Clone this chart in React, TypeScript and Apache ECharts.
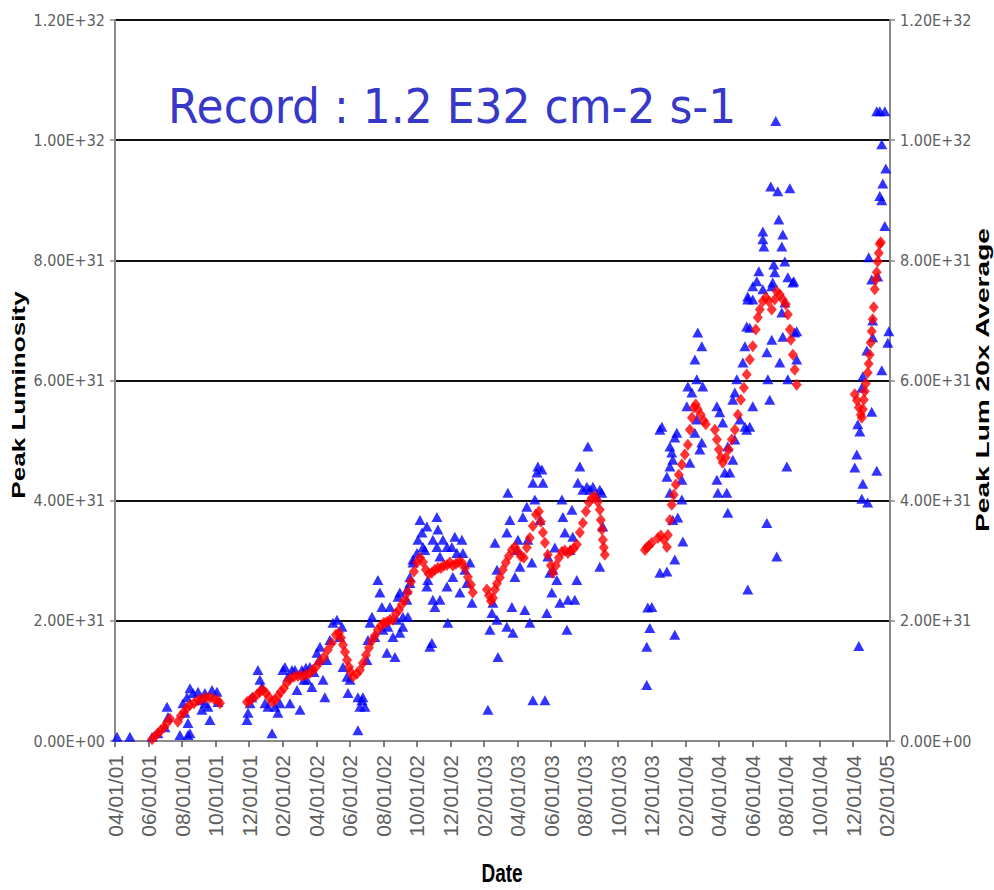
import React, { useEffect, useRef } from "react";
import * as echarts from "echarts";

// x: months since 04/01/01, y: luminosity in units of 1E31 cm-2 s-1
const xTickLabels = [
  "04/01/01", "06/01/01", "08/01/01", "10/01/01", "12/01/01", "02/01/02",
  "04/01/02", "06/01/02", "08/01/02", "10/01/02", "12/01/02", "02/01/03",
  "04/01/03", "06/01/03", "08/01/03", "10/01/03", "12/01/03", "02/01/04",
  "04/01/04", "06/01/04", "08/01/04", "10/01/04", "12/01/04", "02/01/05",
];
const yTickLabels = ["0.00E+00", "2.00E+31", "4.00E+31", "6.00E+31", "8.00E+31", "1.00E+32", "1.20E+32"];

const peakLum: [number, number][] = [
  // 2001
  [0.12, 0.07], [0.89, 0.07], [2.21, 0.07], [2.56, 0.13], [2.98, 0.23], [3.1, 0.57], [3.16, 0.4],
  [3.87, 0.1], [4.47, 0.13], [4.35, 0.3], [4.35, 0.1], [4.17, 0.47], [4.05, 0.63], [4.29, 0.73], [4.47, 0.88],
  [4.65, 0.8], [4.95, 0.82], [5.07, 0.68], [5.18, 0.52], [5.36, 0.63], [5.36, 0.8], [5.54, 0.57],
  [5.66, 0.35], [5.78, 0.85], [6.08, 0.82], [6.14, 0.65],
  // Dec 2001 - Jun 2002
  [7.87, 0.35], [7.93, 0.47], [8.05, 0.63], [8.16, 0.73], [8.52, 1.18], [8.64, 1.02], [8.76, 0.9],
  [8.94, 0.63], [9.12, 0.57], [9.36, 0.13], [9.54, 0.57], [9.71, 0.47], [9.83, 0.63], [10.01, 1.18],
  [10.13, 1.23], [10.31, 1.07], [10.43, 0.63], [10.55, 1.18], [10.73, 1.18], [10.85, 0.85], [11.03, 0.52],
  [11.14, 1.18], [11.26, 1.02], [11.44, 1.02], [11.74, 0.9], [12.04, 1.47], [12.22, 1.57], [12.4, 1.02],
  [12.51, 0.73], [12.63, 1.35], [12.81, 1.68], [12.99, 1.97], [13.23, 2.02], [13.41, 1.73], [13.53, 1.9],
  [13.59, 1.23], [13.83, 1.07], [13.89, 0.8], [14.01, 1.02], [11.62, 1.23], [11.86, 1.15], [12.16, 1.35],
  [11.38, 1.22],
  [14.48, 0.73], [14.6, 0.57], [14.72, 0.68], [14.78, 0.73], [14.9, 0.57], [14.48, 0.18],
  // Jul 2002 - Jan 2003
  [15.02, 1.35], [15.08, 1.68], [15.2, 1.97], [15.32, 2.07], [15.49, 1.73], [15.67, 2.68], [15.79, 2.47],
  [15.91, 2.23], [15.97, 1.85], [16.21, 1.47], [16.27, 1.9], [16.39, 2.23], [16.57, 1.73], [16.69, 1.4],
  [16.81, 2.02], [16.87, 2.4], [16.98, 2.47], [17.16, 1.9], [17.4, 2.52], [17.46, 2.07], [17.58, 2.73],
  [17.76, 2.97], [18.0, 3.13], [18.06, 3.35], [18.18, 3.68], [18.3, 3.47], [18.36, 3.23], [18.59, 3.57],
  [18.65, 2.68], [18.77, 1.57], [18.89, 1.63], [18.95, 2.35], [19.07, 2.23], [19.19, 3.23], [19.25, 3.52],
  [16.98, 1.8], [17.16, 2.07], [17.4, 2.35], [17.58, 2.63], [17.76, 3.02], [18.47, 3.18], [18.59, 2.57],
  [18.95, 3.35], [19.19, 3.73], [19.37, 3.07], [19.37, 2.35], [19.55, 3.35], [19.79, 3.23], [19.79, 2.57],
  [19.84, 1.97], [20.08, 3.23], [20.14, 2.73], [20.26, 3.4], [20.38, 3.13], [20.56, 2.47], [20.68, 3.35],
  [20.74, 3.13], [20.86, 2.85], [20.98, 2.63], [21.16, 2.97], [21.28, 2.3],
  // Feb 2003 - Sep 2003
  [22.23, 0.52], [22.35, 1.85], [22.47, 2.13], [22.53, 2.3], [22.65, 3.3], [22.77, 2.02], [22.83, 1.4],
  [22.77, 2.85], [23.36, 1.9], [23.42, 4.13], [23.54, 3.68], [23.66, 2.23], [23.72, 1.8], [23.36, 3.47],
  [23.84, 2.73], [23.96, 3.18], [24.14, 2.9], [24.31, 3.73], [24.43, 2.18], [24.55, 3.9], [24.61, 3.35],
  [24.73, 1.97], [24.85, 2.97], [24.91, 0.68], [24.91, 4.3], [25.03, 4.02], [25.15, 4.47], [25.21, 4.57],
  [25.45, 4.52], [25.51, 4.3], [25.63, 0.68], [25.74, 2.13], [25.8, 3.07], [25.92, 2.8], [26.04, 2.47],
  [26.1, 2.85], [26.34, 2.68], [26.52, 2.3], [26.64, 4.02], [26.7, 3.73], [26.82, 3.47], [26.94, 1.85],
  [27.0, 2.35], [27.12, 3.18], [27.24, 3.85], [27.29, 3.4], [27.41, 2.35], [27.53, 2.68], [27.59, 4.3],
  [27.71, 4.57], [28.19, 4.9], [27.89, 4.18], [28.13, 4.23], [28.31, 4.18], [28.49, 4.23], [28.72, 4.07],
  [28.9, 4.18], [29.02, 4.13], [29.08, 3.57], [28.9, 2.9], [24.02, 3.35], [25.33, 3.68], [26.22, 3.22],
  // Dec 2003 - Mar 2004
  [31.7, 0.93], [31.7, 1.57], [31.88, 1.88], [31.76, 2.22], [32.0, 2.23], [32.48, 2.8], [32.9, 2.82],
  [33.37, 1.77], [33.37, 3.02], [33.85, 3.32], [33.55, 3.72], [33.25, 3.68], [33.08, 4.13], [32.9, 4.4],
  [33.08, 4.57], [33.25, 4.68], [33.08, 4.9], [33.37, 5.05], [33.49, 5.13], [32.48, 5.18], [32.6, 5.23],
  [33.19, 4.8], [33.79, 4.02], [33.79, 4.35], [34.27, 4.63], [34.09, 5.57], [34.15, 5.9], [34.39, 5.8],
  [34.57, 6.35], [34.74, 6.8], [34.98, 6.57], [35.04, 5.9], [34.68, 6.02], [34.86, 4.85], [34.98, 4.97],
  [34.57, 5.13], [34.68, 5.35],
  // Apr 2004 - Aug 2004
  [35.88, 5.57], [36.05, 5.47], [36.23, 5.3], [35.88, 4.35], [35.94, 4.13], [36.47, 4.13], [36.53, 3.8],
  [36.35, 4.47], [36.65, 4.47], [36.53, 4.9], [36.83, 4.68], [36.95, 5.02], [37.25, 5.35], [36.83, 5.68],
  [36.95, 5.8], [37.07, 6.02], [37.43, 6.3], [37.55, 5.23], [37.66, 5.18], [37.84, 5.23], [37.72, 2.52],
  [38.02, 5.57], [37.55, 6.57], [37.66, 6.9], [37.72, 7.4], [38.02, 7.57], [38.26, 7.65], [38.62, 7.52],
  [38.86, 6.47], [38.92, 6.02], [39.03, 5.68], [38.86, 3.63], [39.15, 6.68], [39.21, 7.63], [39.45, 3.07],
  [39.63, 6.3], [39.81, 6.73], [39.93, 7.3], [40.05, 4.57], [40.11, 6.02], [40.41, 7.63], [40.52, 6.8],
  [40.64, 6.35], [39.39, 10.32], [39.09, 9.23], [39.51, 9.15], [40.23, 9.2], [39.57, 8.68], [38.62, 8.48],
  [38.62, 8.35], [38.68, 8.23], [39.81, 8.43], [39.75, 8.23], [39.93, 7.98], [39.27, 7.93], [38.38, 7.82],
  [39.33, 7.8], [40.11, 7.72], [40.46, 7.65], [39.15, 7.57], [37.72, 7.35], [38.02, 7.35], [37.84, 6.88],
  [40.64, 6.82], [39.75, 7.13],
  // Dec 2004 - Feb 2005
  [45.41, 10.48], [45.59, 10.48], [45.89, 10.48], [45.71, 9.93], [45.95, 9.53], [45.77, 9.28], [45.59, 9.07],
  [45.71, 9.0], [45.89, 8.57], [44.93, 8.05], [45.11, 7.68], [45.47, 7.73], [45.17, 7.0], [46.13, 6.82],
  [46.07, 6.63], [44.82, 6.5], [45.17, 6.72], [45.71, 6.17], [44.58, 6.07], [44.52, 5.88], [45.11, 5.48],
  [44.28, 5.27], [44.4, 5.15], [44.22, 4.77], [44.1, 4.55], [45.41, 4.5], [44.58, 4.28], [44.52, 4.03],
  [44.87, 3.97], [44.34, 1.58],
];

const avg20x: [number, number][] = [
  // May - Jun 2001
  [2.21, 0.03], [2.38, 0.08], [2.56, 0.13], [2.74, 0.18], [2.92, 0.23], [3.1, 0.3], [3.28, 0.37],
  // Jul - Oct 2001
  [3.75, 0.32], [3.93, 0.42], [4.11, 0.48], [4.29, 0.55], [4.47, 0.6], [4.71, 0.63], [4.95, 0.68],
  [5.18, 0.7], [5.42, 0.72], [5.66, 0.72], [5.9, 0.7], [6.14, 0.67], [6.26, 0.63],
  // Dec 2001 - Jun 2002
  [7.87, 0.65], [8.05, 0.68], [8.22, 0.72], [8.46, 0.77], [8.64, 0.82], [8.82, 0.85], [9.0, 0.8],
  [9.18, 0.73], [9.36, 0.65], [9.54, 0.68], [9.71, 0.75], [9.89, 0.82], [10.07, 0.88], [10.25, 0.97],
  [10.43, 1.03], [10.67, 1.07], [10.91, 1.08], [11.14, 1.08], [11.38, 1.1], [11.62, 1.13], [11.8, 1.18],
  [11.98, 1.23], [12.22, 1.32], [12.46, 1.4], [12.69, 1.52], [12.93, 1.63], [13.17, 1.77], [13.35, 1.8],
  [13.47, 1.72], [13.59, 1.6], [13.71, 1.48], [13.83, 1.35], [13.95, 1.23], [14.06, 1.15], [14.18, 1.07],
  // Jun 2002 - Jan 2003
  [14.42, 1.12], [14.6, 1.18], [14.78, 1.3], [14.96, 1.43], [15.14, 1.55], [15.32, 1.67], [15.49, 1.75],
  [15.67, 1.85], [15.85, 1.92], [16.03, 1.97], [16.21, 1.98], [16.39, 2.02], [16.57, 2.02], [16.75, 2.12],
  [16.92, 2.18], [17.1, 2.27], [17.28, 2.35], [17.46, 2.48], [17.64, 2.65], [17.82, 2.82], [18.0, 2.97],
  [18.18, 3.05], [18.36, 2.98], [18.53, 2.85], [18.71, 2.78], [18.89, 2.8], [19.07, 2.85], [19.25, 2.88],
  [19.43, 2.88], [19.61, 2.92], [19.79, 2.93], [19.96, 2.97], [20.14, 2.92], [20.32, 2.95], [20.5, 2.98],
  [20.68, 2.97], [20.86, 2.88], [21.04, 2.73], [21.22, 2.6], [21.33, 2.47],
  // Feb 2003 - Sep 2003
  [22.17, 2.52], [22.29, 2.42], [22.41, 2.33], [22.53, 2.38], [22.65, 2.52], [22.77, 2.62], [22.94, 2.72],
  [23.12, 2.85], [23.3, 2.97], [23.48, 3.08], [23.66, 3.18], [23.84, 3.23], [24.02, 3.15], [24.2, 3.07],
  [24.37, 3.05], [24.55, 3.22], [24.73, 3.38], [24.91, 3.58], [25.09, 3.77], [25.27, 3.82], [25.39, 3.65],
  [25.51, 3.47], [25.63, 3.3], [25.8, 3.1], [25.98, 2.92], [26.1, 2.8], [26.28, 2.92], [26.46, 3.05],
  [26.64, 3.15], [26.82, 3.17], [27.0, 3.13], [27.18, 3.17], [27.35, 3.2], [27.53, 3.27], [27.71, 3.47],
  [27.89, 3.63], [28.07, 3.82], [28.25, 3.97], [28.43, 4.05], [28.61, 4.07], [28.78, 3.98], [28.9, 3.85],
  [28.96, 3.68], [29.02, 3.52], [29.08, 3.35], [29.14, 3.22], [29.2, 3.1],
  // Dec 2003 - Mar 2004
  [31.59, 3.18], [31.7, 3.22], [31.82, 3.25], [32.0, 3.3], [32.36, 3.38], [32.54, 3.42], [32.72, 3.35],
  [32.9, 3.23], [32.96, 3.43], [33.08, 3.68], [33.19, 3.93], [33.31, 4.1], [33.43, 4.27], [33.61, 4.43],
  [33.79, 4.6], [33.97, 4.77], [34.15, 4.93], [34.27, 5.18], [34.39, 5.38], [34.51, 5.55], [34.62, 5.6],
  [34.74, 5.52], [34.92, 5.43], [35.1, 5.33], [35.22, 5.27],
  // Apr 2004 - Aug 2004
  [35.76, 5.18], [35.88, 5.02], [36.0, 4.85], [36.11, 4.72], [36.23, 4.63], [36.41, 4.72], [36.59, 4.85],
  [36.77, 5.02], [36.95, 5.18], [37.13, 5.43], [37.31, 5.68], [37.49, 5.88], [37.66, 6.1], [37.84, 6.35],
  [38.02, 6.57], [38.2, 6.85], [38.32, 7.05], [38.44, 7.18], [38.62, 7.32], [38.8, 7.38], [38.97, 7.32],
  [39.15, 7.18], [39.33, 7.35], [39.45, 7.48], [39.63, 7.43], [39.81, 7.35], [39.99, 7.27], [40.11, 7.1],
  [40.23, 6.85], [40.29, 6.68], [40.41, 6.43], [40.52, 6.18], [40.64, 5.93],
  // Dec 2004 - Feb 2005
  [44.1, 5.77], [44.22, 5.67], [44.34, 5.55], [44.46, 5.43], [44.52, 5.38], [44.58, 5.52], [44.64, 5.68],
  [44.7, 5.82], [44.76, 5.95], [44.87, 6.13], [44.93, 6.28], [44.99, 6.43], [45.05, 6.63], [45.11, 6.82],
  [45.17, 7.02], [45.23, 7.22], [45.29, 7.52], [45.35, 7.68], [45.41, 7.8], [45.47, 7.98], [45.53, 8.12],
  [45.59, 8.27], [45.65, 8.3],
];

const labelFont = "'DejaVu Sans Condensed', 'Liberation Sans', Arial, sans-serif";

export default function App() {
  const ref = useRef<HTMLDivElement>(null);
  useEffect(() => {
    if (!ref.current) return;
    const chart = echarts.init(ref.current, undefined, { renderer: "svg" });
    const yLabel = (v: number) => {
      const i = Math.round(v / 2);
      return Math.abs(v - i * 2) < 1e-6 && yTickLabels[i] ? yTickLabels[i] : "";
    };
    const yAxisCommon = {
      type: "value" as const,
      min: 0,
      max: 12,
      interval: 2,
      axisLine: { show: true, lineStyle: { color: "#8a8a8a", width: 2 } },
      axisTick: { show: true, inside: false, length: 5, lineStyle: { color: "#8a8a8a", width: 1.5 } },
      axisLabel: { formatter: yLabel, color: "#5e5e5e", fontSize: 16, fontFamily: labelFont, margin: 10 },
    };
    chart.setOption({
      animation: false,
      backgroundColor: "#ffffff",
      grid: { left: 115, right: 104, top: 20, bottom: 149, containLabel: false, outerBoundsMode: "none" },
      xAxis: {
        type: "value",
        min: 0,
        max: 46.2,
        interval: 2,
        axisLine: { show: true, onZero: false, lineStyle: { color: "#8a8a8a", width: 2 } },
        axisTick: { show: true, length: 6, lineStyle: { color: "#555", width: 1.5 } },
        splitLine: { show: false },
        axisLabel: {
          rotate: 90,
          color: "#5e5e5e",
          fontSize: 21,
          fontFamily: "'Liberation Sans', Arial, sans-serif",
          margin: 14,
          showMaxLabel: false,
          formatter: (v: number) => {
            const i = Math.round(v / 2);
            return Math.abs(v - i * 2) < 1e-6 && xTickLabels[i] ? xTickLabels[i] : "";
          },
        },
      },
      yAxis: [
        {
          ...yAxisCommon,
          position: "left",
          splitLine: { show: true, lineStyle: { color: "#111", width: 1.8 } },
        },
        {
          ...yAxisCommon,
          position: "right",
          splitLine: { show: false },
        },
      ],
      series: [
        {
          name: "Peak Luminosity",
          type: "scatter",
          data: peakLum,
          symbol: "triangle",
          symbolSize: [11, 10],
          itemStyle: { color: "#0000ff" },
          z: 2,
        },
        {
          name: "Peak Lum 20x Average",
          type: "scatter",
          yAxisIndex: 1,
          data: avg20x,
          symbol: "diamond",
          symbolSize: [10, 12],
          itemStyle: { color: "#ff0000" },
          z: 3,
        },
      ],
      graphic: [
        {
          type: "text",
          x: 168,
          y: 106,
          scaleY: 1.1,
          style: {
            text: "Record : 1.2 E32 cm-2 s-1",
            fill: "#3838c8",
            font: "44px 'DejaVu Sans', sans-serif",
            align: "left",
            verticalAlign: "middle",
            textAlign: "left",
            textVerticalAlign: "middle",
          },
        },
        {
          type: "text",
          x: 19,
          y: 395,
          rotation: Math.PI / 2,
          scaleX: 1.45,
          style: {
            text: "Peak Luminosity",
            fill: "#000",
            font: "bold 18px 'Liberation Sans', Arial, sans-serif",
            align: "center",
            verticalAlign: "middle",
            textAlign: "center",
            textVerticalAlign: "middle",
          },
        },
        {
          type: "text",
          x: 983,
          y: 380,
          rotation: Math.PI / 2,
          scaleX: 1.56,
          style: {
            text: "Peak Lum 20x Average",
            fill: "#000",
            font: "bold 18px 'Liberation Sans', Arial, sans-serif",
            align: "center",
            verticalAlign: "middle",
            textAlign: "center",
            textVerticalAlign: "middle",
          },
        },
        {
          type: "text",
          x: 502,
          y: 873,
          scaleY: 1.4,
          style: {
            text: "Date",
            fill: "#000",
            font: "bold 19px 'Liberation Sans', Arial, sans-serif",
            align: "center",
            verticalAlign: "middle",
            textAlign: "center",
            textVerticalAlign: "middle",
          },
        },
      ],
    });
    return () => chart.dispose();
  }, []);
  return (
    <div
      ref={ref}
      style={{ position: "fixed", left: 0, top: 0, width: 994, height: 890, background: "#fff" }}
    />
  );
}
